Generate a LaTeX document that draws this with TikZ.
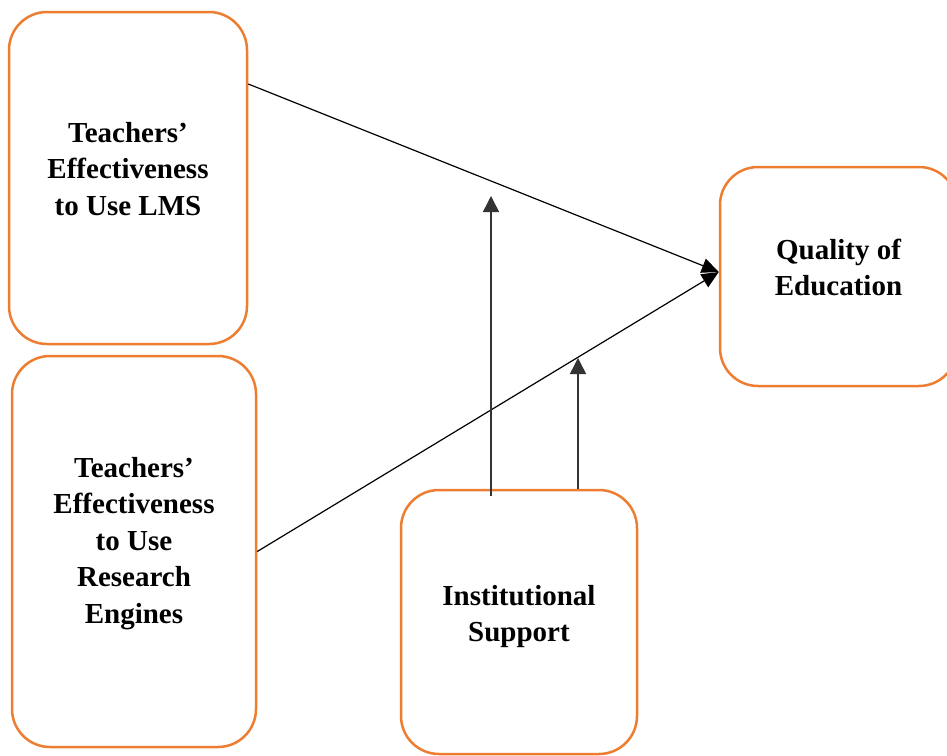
\documentclass[tikz,border=0pt]{standalone}
\usepackage{fontspec}
\setmainfont{Liberation Serif}
\usetikzlibrary{arrows.meta}
\definecolor{boxorange}{HTML}{ED7D31}
\tikzset{
  varbox/.style={draw=boxorange, line width=2.5pt, rounded corners=38pt,
    inner sep=0pt, fill=white},
  boxtext/.style={align=center, font=\fontsize{29}{36.5}\selectfont\bfseries,
    inner sep=0pt},
  conn/.style={draw=black, line width=1.2pt,
    -{Triangle[length=17pt, width=15pt]}},
  modline/.style={draw=black!80, line width=1.5pt,
    -{Triangle[length=16pt, width=16pt]}}
}
\begin{document}
\begin{tikzpicture}[x=1pt, y=-1pt]
  \useasboundingbox (0,0) rectangle (947,755);

  % variable boxes
  \node[varbox, minimum width=238pt, minimum height=332pt] (lms) at (128,178) {};
  \node[varbox, minimum width=244pt, minimum height=391pt] (res) at (134,551.5) {};
  \node[varbox, minimum width=236pt, minimum height=264pt] (inst) at (519,622) {};
  \node[varbox, minimum width=237pt, minimum height=219pt] (qual) at (838.5,276.5) {};

  % box captions
  \node[boxtext] (lmstxt) at ([yshift=9pt]lms.center)
    {Teachers’\\Effectiveness\\to Use LMS};
  \node[boxtext] (restxt) at ([yshift=8pt]res.center)
    {Teachers’\\Effectiveness\\to Use\\Research\\Engines};
  \node[boxtext] (insttxt) at ([yshift=5.5pt]inst.center)
    {Institutional\\Support};
  \node[boxtext] (qualtxt) at ([yshift=9pt]qual.center)
    {Quality of\\Education};

  % tips of the moderating arrows
  \coordinate (modtipA) at (491,196);
  \coordinate (modtipB) at (578,358);

  % direct effects
  \draw[conn] ([yshift=94pt]lms.east) -- ([yshift=4.5pt]qual.west);
  \draw[conn] (res.east) -- ([yshift=4.5pt]qual.west);

  % moderating effects of institutional support
  \draw[modline] ([xshift=-28pt, yshift=-7pt]inst.north) -- (modtipA);
  \draw[modline] ([xshift=59pt]inst.north) -- (modtipB);
\end{tikzpicture}
\end{document}
